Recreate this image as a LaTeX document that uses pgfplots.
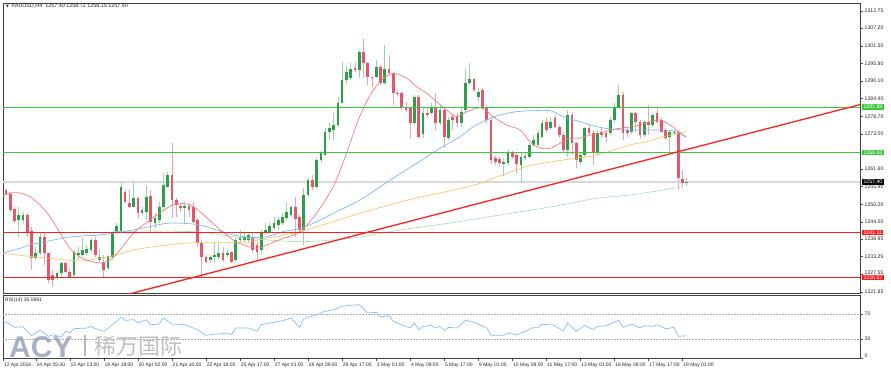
\documentclass[border=0pt]{standalone}
\usepackage{fontspec}
\setmainfont{Liberation Sans}
\newfontfamily\cjk{Noto Sans CJK SC}
\newfontfamily\dejavu{DejaVu Sans}
\usepackage{pgfplots}
\pgfplotsset{compat=1.18}
\usepackage{pgfplotstable}

\definecolor{bull}{HTML}{2E9E4A}
\definecolor{bear}{HTML}{E5566B}
\definecolor{bullw}{HTML}{9CD3A8}
\definecolor{bearw}{HTML}{F2A2AE}
\definecolor{maR}{HTML}{F47C7C}
\definecolor{maB}{HTML}{7DB7F0}
\definecolor{maO}{HTML}{FBC46A}
\definecolor{maG}{HTML}{A9D6B1}
\definecolor{hgreen}{HTML}{3CC83C}
\definecolor{hred}{HTML}{FF1E1E}
\definecolor{rsic}{HTML}{82BEF5}
\definecolor{wmblue}{HTML}{9EA9BC}
\definecolor{wmgray}{HTML}{B8B8B8}

\pgfplotstableread{
i o h l c
0 1258.3 1259.4 1254.8 1255.4
1 1254.8 1255.0 1253.2 1253.7
2 1253.7 1254.3 1247.8 1248.4
3 1248.6 1249.4 1244.0 1244.8
4 1245.1 1249.4 1239.7 1246.7
5 1245.1 1247.8 1244.1 1246.7
6 1246.7 1247.4 1239.7 1241.3
7 1241.6 1242.8 1228.9 1232.7
8 1232.7 1236.5 1232.2 1234.5
9 1234.3 1241.3 1233.8 1239.7
10 1239.7 1240.8 1230.5 1234.3
11 1234.3 1234.5 1224.6 1225.7
12 1227.3 1228.9 1223.5 1225.7
13 1226.2 1228.6 1225.7 1227.9
14 1227.9 1231.6 1226.8 1231.1
15 1231.1 1231.6 1227.9 1228.4
16 1228.4 1229.7 1226.5 1226.8
17 1227.3 1235.4 1226.8 1234.9
18 1233.8 1236.5 1232.2 1234.3
19 1233.8 1239.2 1233.2 1235.4
20 1234.3 1236.9 1233.8 1235.9
21 1235.4 1239.2 1234.9 1238.6
22 1238.6 1239.7 1233.2 1233.8
23 1232.2 1235.4 1231.1 1233.2
24 1231.6 1233.8 1226.8 1228.9
25 1229.5 1233.8 1228.9 1233.5
26 1233.2 1241.3 1232.2 1241.0
27 1241.3 1244.2 1240.8 1243.2
28 1241.3 1257.5 1240.8 1255.9
29 1254.3 1254.8 1250.6 1250.8
30 1250.5 1254.8 1248.9 1249.4
31 1249.4 1257.5 1249.2 1252.1
32 1252.1 1252.6 1245.7 1247.3
33 1247.3 1249.4 1246.7 1248.4
34 1247.8 1256.4 1245.1 1252.6
35 1252.9 1254.8 1241.3 1244.5
36 1244.2 1247.3 1242.4 1245.7
37 1245.1 1251.0 1244.0 1249.4
38 1249.4 1260.2 1248.4 1256.4
39 1255.9 1260.7 1255.4 1259.7
40 1259.7 1270.0 1245.7 1251.6
41 1251.6 1252.1 1246.2 1250.0
42 1249.7 1250.5 1247.8 1248.9
43 1248.9 1251.0 1244.0 1249.7
44 1249.7 1250.5 1246.2 1248.4
45 1249.4 1251.0 1244.0 1244.5
46 1245.1 1245.7 1236.5 1237.6
47 1237.6 1238.6 1226.8 1233.2
48 1233.2 1233.8 1231.1 1231.6
49 1232.2 1233.8 1231.1 1233.2
50 1233.2 1237.6 1231.1 1233.8
51 1233.2 1237.6 1232.2 1234.3
52 1234.3 1236.5 1231.6 1232.2
53 1233.8 1235.4 1233.2 1234.3
54 1234.9 1234.9 1231.1 1231.6
55 1232.2 1239.2 1231.6 1238.6
56 1238.6 1241.9 1238.1 1239.7
57 1238.6 1240.8 1238.1 1239.7
58 1238.6 1240.8 1237.6 1240.3
59 1239.7 1240.3 1234.3 1235.4
60 1237.0 1238.1 1232.2 1234.9
61 1235.4 1241.9 1233.8 1241.3
62 1240.8 1244.0 1240.3 1241.9
63 1241.3 1244.6 1240.8 1243.2
64 1242.4 1246.2 1241.9 1244.2
65 1243.5 1246.2 1241.9 1245.1
66 1244.0 1247.3 1243.5 1246.2
67 1245.7 1251.0 1245.1 1247.8
68 1246.7 1250.0 1246.2 1249.4
69 1249.4 1252.6 1239.7 1245.3
70 1246.0 1246.7 1241.3 1241.9
71 1241.9 1255.4 1237.0 1253.2
72 1253.2 1258.7 1252.6 1258.1
73 1258.1 1259.7 1254.8 1255.8
74 1255.8 1265.2 1255.5 1264.5
75 1264.5 1267.5 1263.5 1266.7
76 1266.1 1274.9 1265.8 1273.7
77 1273.7 1276.4 1271.0 1274.8
78 1274.2 1279.6 1271.0 1275.9
79 1275.9 1285.0 1275.3 1283.1
80 1283.1 1296.2 1282.9 1290.4
81 1290.4 1295.0 1289.0 1293.1
82 1291.0 1295.9 1290.4 1293.9
83 1294.3 1295.9 1293.0 1293.7
84 1293.7 1300.1 1291.1 1299.6
85 1299.6 1303.6 1291.1 1295.8
86 1295.8 1296.3 1288.8 1291.5
87 1291.5 1291.5 1288.3 1291.0
88 1291.5 1296.9 1291.0 1294.7
89 1294.7 1295.3 1288.8 1289.4
90 1289.4 1301.7 1288.8 1293.9
91 1293.9 1298.5 1292.0 1292.6
92 1292.6 1293.1 1282.3 1286.1
93 1286.3 1287.2 1285.0 1285.9
94 1286.3 1286.6 1280.7 1281.8
95 1281.8 1283.4 1280.2 1280.7
96 1281.3 1281.8 1271.5 1276.4
97 1276.4 1285.6 1275.9 1285.0
98 1285.0 1285.6 1271.5 1272.1
99 1273.0 1281.8 1271.5 1279.6
100 1279.6 1281.8 1278.5 1279.1
101 1279.6 1283.0 1279.0 1281.8
102 1281.8 1286.1 1274.2 1276.4
103 1276.4 1282.3 1275.9 1280.7
104 1280.7 1281.3 1268.3 1272.1
105 1271.5 1278.5 1271.0 1277.4
106 1278.5 1279.1 1274.2 1277.5
107 1278.5 1279.6 1275.3 1276.4
108 1276.4 1281.3 1275.3 1280.2
109 1280.7 1294.2 1280.2 1289.4
110 1289.4 1295.8 1288.8 1290.7
111 1290.7 1291.0 1286.6 1287.2
112 1285.0 1287.7 1283.4 1286.6
113 1287.2 1287.7 1280.7 1281.8
114 1281.8 1282.3 1276.4 1277.5
115 1277.5 1278.0 1263.4 1264.5
116 1265.1 1265.8 1262.9 1264.0
117 1264.8 1265.6 1262.4 1263.7
118 1263.4 1265.1 1259.3 1264.0
119 1263.5 1267.7 1263.0 1267.2
120 1266.7 1267.5 1264.8 1265.6
121 1266.1 1266.7 1260.2 1263.2
122 1262.9 1266.7 1257.0 1265.6
123 1265.4 1266.7 1264.5 1265.8
124 1265.6 1270.0 1265.1 1269.4
125 1269.4 1272.6 1268.9 1271.0
126 1269.4 1274.2 1268.9 1273.2
127 1272.1 1277.5 1271.5 1276.4
128 1276.9 1278.0 1273.7 1274.2
129 1274.8 1278.5 1274.2 1276.9
130 1278.0 1279.1 1274.8 1275.3
131 1275.3 1276.0 1271.5 1272.6
132 1272.6 1273.2 1267.2 1267.8
133 1267.8 1280.7 1265.6 1279.1
134 1279.1 1280.2 1266.1 1270.0
135 1270.0 1270.5 1261.8 1264.5
136 1263.9 1267.2 1262.9 1266.1
137 1266.1 1275.3 1265.6 1274.9
138 1274.9 1275.9 1272.6 1273.2
139 1273.2 1274.2 1262.9 1266.7
140 1266.7 1274.2 1266.1 1273.2
141 1273.7 1274.8 1271.5 1272.6
142 1273.2 1273.7 1270.5 1272.1
143 1273.2 1278.5 1272.6 1277.5
144 1277.5 1282.9 1276.9 1281.3
145 1281.3 1288.8 1281.3 1285.6
146 1285.6 1286.6 1271.0 1273.2
147 1274.2 1275.3 1272.1 1273.2
148 1273.5 1280.2 1273.0 1279.8
149 1279.8 1280.2 1273.7 1276.9
150 1276.9 1277.5 1271.5 1272.6
151 1272.6 1277.5 1272.1 1276.9
152 1276.9 1282.3 1272.6 1275.9
153 1275.9 1279.6 1275.3 1279.1
154 1279.6 1281.8 1276.4 1276.9
155 1277.5 1278.0 1273.2 1273.6
156 1274.2 1274.8 1271.0 1271.7
157 1272.1 1274.2 1267.2 1273.7
158 1273.2 1274.2 1272.6 1273.7
159 1273.5 1274.2 1254.8 1258.7
160 1258.4 1261.3 1255.9 1257.1
161 1257.4 1258.72 1256.15 1257.4
}\candles

\pgfplotsset{
  candle/.style n args={2}{draw=none, mark=none, forget plot,
    error bars/.cd, y dir=both, y explicit, error mark=none,
    error bar style={line width=#2, draw=#1, line cap=butt}, /pgfplots/.cd},
}

\begin{document}
\begin{tikzpicture}
\begin{axis}[
  at={(3pt,76.5pt)}, anchor=south west, scale only axis,
  width=857pt, height=290.5pt,
  xmin=0.3, xmax=201.7, ymin=1221.33, ymax=1315.34,
  axis line style={draw=black!75, line width=0.6pt},
  xtick=\empty,
  ytick={1312.75,1307.20,1301.50,1295.80,1290.10,1284.40,1278.70,1273.00,1261.60,1255.90,1250.20,1244.50,1238.95,1233.25,1227.55,1221.85},
  yticklabels={1312.75,1307.20,1301.50,1295.80,1290.10,1284.40,1278.70,1273.00,1261.60,1255.90,1250.20,1244.50,1238.95,1233.25,\raisebox{2.6pt}{1227.55},1221.85},
  ytick pos=right, yticklabel pos=right, tick align=outside,
  major tick length=2.5pt, tick style={black!70, line width=0.4pt},
  yticklabel style={font=\fontsize{5.2}{6}\selectfont, inner sep=0pt, xshift=2pt, text=black!85},
  clip=true,
]
% current price line
\addplot[black!15, line width=1.4pt] coordinates {(0,1257.40) (202,1257.40)};
% wicks
\addplot[restrict expr to domain={\thisrow{c}-\thisrow{o}}{0:1000}, candle={bullw}{0.7pt}]
  table[x=i, y expr={(\thisrow{h}+\thisrow{l})/2}, y error expr={(\thisrow{h}-\thisrow{l})/2}] {\candles};
\addplot[restrict expr to domain={\thisrow{o}-\thisrow{c}}{0.001:1000}, candle={bearw}{0.7pt}]
  table[x=i, y expr={(\thisrow{h}+\thisrow{l})/2}, y error expr={(\thisrow{h}-\thisrow{l})/2}] {\candles};
% bodies
\addplot[restrict expr to domain={\thisrow{c}-\thisrow{o}}{0:1000}, candle={bull}{2.7pt}]
  table[x=i, y expr={(\thisrow{o}+\thisrow{c})/2}, y error expr={max(abs(\thisrow{o}-\thisrow{c})/2,0.17)}] {\candles};
\addplot[restrict expr to domain={\thisrow{o}-\thisrow{c}}{0.001:1000}, candle={bear}{2.7pt}]
  table[x=i, y expr={(\thisrow{o}+\thisrow{c})/2}, y error expr={max(abs(\thisrow{o}-\thisrow{c})/2,0.17)}] {\candles};
% moving averages
\addplot[maG, line width=0.6pt, smooth] coordinates {(26.2,1241.33)(34.85,1241.56)(46.6,1241.23)(54.4,1239.7)(62.4,1238.65)(70.1,1238.1)(77.9,1238.65)(84.2,1239.6)(93.6,1241.88)(105.4,1244.15)(117.1,1246.74)(128.9,1249.33)(139.8,1252.14)(147.7,1253.21)(155.5,1254.83)(160.2,1255.9)};
\addplot[maO, line width=0.7pt, smooth] coordinates {(0,1234.34)(7.4,1233.24)(15.3,1232.17)(19.2,1231.9)(23.1,1232.72)(27.0,1233.8)(30.9,1235.41)(34.85,1236.3)(38.8,1237.03)(42.6,1237.58)(46.6,1237.77)(54.4,1237.77)(58.4,1238.1)(62.3,1239.2)(66.1,1240.26)(70.1,1241.33)(74.0,1242.95)(77.9,1244.57)(84.2,1247.3)(93.6,1250.94)(100.7,1253.21)(108.4,1255.47)(112.4,1257.0)(116.3,1259.0)(121.0,1261.3)(124.2,1262.75)(132.0,1264.53)(139.8,1266.15)(147.7,1269.39)(151.6,1270.45)(155.5,1272.07)(158.6,1273.17)(161.0,1273.69)};
\addplot[maB, line width=0.7pt, smooth] coordinates {(0,1234.34)(4.3,1235.96)(7.4,1237.3)(11.35,1238.4)(15.3,1239.5)(19.2,1240.0)(23.1,1240.26)(30.9,1241.88)(34.85,1243.0)(38.8,1244.05)(42.6,1244.05)(46.6,1243.5)(50.5,1241.88)(54.4,1240.26)(58.4,1239.52)(62.3,1239.7)(66.1,1241.33)(70.1,1242.4)(74.0,1244.57)(77.9,1247.3)(84.2,1251.6)(91.3,1258.06)(97.5,1263.47)(103.0,1268.32)(107.7,1272.07)(110.8,1275.31)(114.0,1277.48)(117.1,1279.1)(121.0,1280.17)(124.9,1280.49)(128.9,1280.49)(132.0,1278.55)(135.9,1276.93)(139.8,1275.31)(143.7,1274.47)(147.7,1274.24)(155.5,1274.24)(158.6,1273.69)(161.0,1271.88)};
\addplot[maR, line width=0.7pt, smooth] coordinates {(0,1252.66)(1.95,1253.85)(4.3,1253.85)(6.65,1252.66)(9.0,1249.97)(11.35,1246.18)(13.7,1240.91)(16.05,1235.9)(18.4,1233.1)(20.75,1231.85)(23.1,1231.2)(25.45,1232.17)(27.8,1235.41)(30.9,1240.81)(34.85,1245.1)(38.8,1248.9)(41.1,1250.52)(44.3,1249.97)(46.6,1247.8)(50.5,1242.95)(54.4,1238.65)(56.8,1237.03)(59.9,1235.96)(62.3,1237.03)(66.2,1239.2)(70.1,1241.33)(74.0,1247.3)(78.1,1256.5)(81.1,1267.0)(83.8,1277.5)(86.6,1285.57)(89.3,1290.42)(92.0,1292.6)(95.2,1290.97)(97.5,1288.25)(99.9,1286.1)(102.2,1283.4)(104.6,1280.7)(106.9,1278.55)(109.3,1280.17)(111.6,1281.27)(113.2,1281.27)(115.5,1278.55)(118.7,1275.86)(121.8,1274.24)(124.2,1270.36)(126.5,1268.4)(128.9,1268.32)(131.2,1269.94)(133.6,1271.56)(135.9,1271.56)(138.3,1272.62)(140.6,1273.17)(143.0,1274.24)(145.3,1274.79)(147.7,1275.31)(150.0,1275.86)(152.4,1276.93)(154.7,1277.48)(157.1,1275.86)(159.0,1273.69)(160.6,1272.07)};
% horizontal levels
\addplot[hgreen, line width=0.9pt] coordinates {(0,1281.69) (202,1281.69)};
\addplot[hgreen, line width=0.9pt] coordinates {(0,1266.93) (202,1266.93)};
\addplot[hred, line width=1.2pt] coordinates {(0,1241.11) (202,1241.11)};
\addplot[hred, line width=1.2pt] coordinates {(0,1226.57) (202,1226.57)};
% trend line
\addplot[hred, line width=1.3pt] coordinates {(20,1217.62) (205,1283.63)};
\coordinate (G1) at (axis cs:201.7,1281.69);
\coordinate (G2) at (axis cs:201.7,1266.93);
\coordinate (K1) at (axis cs:201.7,1257.40);
\coordinate (R1) at (axis cs:201.7,1241.11);
\coordinate (R2) at (axis cs:201.7,1226.57);
\end{axis}

\begin{axis}[
  at={(3pt,11.5pt)}, anchor=south west, scale only axis,
  width=857pt, height=63pt,
  xmin=0.3, xmax=201.7, ymin=-1.2, ymax=99.6,
  axis line style={draw=black!75, line width=0.6pt},
  xtick={0.35,8,16,24,32,40,48,56,64,72,80,88,96,104,112,120,128,136,144,152,160},
  xticklabels={12 Apr 2016,14 Apr 05:00,15 Apr 13:00,18 Apr 18:00,20 Apr 02:00,21 Apr 10:00,22 Apr 18:00,25 Apr 17:00,27 Apr 01:00,28 Apr 09:00,29 Apr 17:00,3 May 01:00,4 May 09:00,5 May 17:00,9 May 01:00,10 May 09:00,11 May 17:00,13 May 01:00,16 May 09:00,17 May 17:00,19 May 01:00},
  xtick pos=bottom, xticklabel pos=bottom,
  ytick={100,70,30,0},
  yticklabels={\raisebox{-3pt}{100},70,30,\raisebox{3.5pt}{0}},
  ytick pos=right, yticklabel pos=right, tick align=outside,
  major tick length=2.5pt, tick style={black!70, line width=0.4pt},
  yticklabel style={font=\fontsize{5.2}{6}\selectfont, inner sep=0pt, xshift=2pt, text=black!85},
  xticklabel style={font=\fontsize{5}{6}\selectfont, anchor=north west, inner sep=0pt, xshift=0.6pt, yshift=-1.6pt, text=black!85},
  clip=true,
]
\addplot[black!30, densely dotted, line width=0.5pt] coordinates {(0,70) (202,70)};
\addplot[black!30, densely dotted, line width=0.5pt] coordinates {(0,30) (202,30)};
\addplot[rsic, line width=0.7pt] coordinates {(0,60.9)(3,48.7)(5,49.6)(7,35.3)(9,43.9)(11,34.3)(12,36.7)(14,33.2)(15,42.3)(16,39.9)(17,46.5)(20,47.5)(21,50.3)(22,46.5)(24,42.3)(26,52.9)(28,64.7)(29,59.9)(31,60.9)(32,55.6)(34,60.9)(35,52.9)(37,53.9)(38,63.6)(40,53.9)(43,52.9)(46,44.9)(48,35.9)(50,37.9)(51,37.9)(53,39.5)(54,37.0)(55,47.6)(58,47.6)(60,42.3)(61,52.9)(63,55.6)(66,59.3)(68,63.6)(70,48.7)(71,62.6)(72,64.7)(74,68.9)(76,74.2)(78,76.9)(80,82.2)(82,83.9)(84,84.9)(86,71.6)(88,72.6)(89,65.2)(91,67.3)(92,58.3)(94,52.9)(96,47.6)(97,55.6)(98,44.9)(99,50.1)(101,51.7)(102,47.6)(103,50.1)(104,43.8)(105,48.6)(107,47.6)(109,59.9)(111,56.7)(114,47.6)(115,35.9)(118,35.9)(119,39.5)(121,36.9)(123,42.3)(125,48.6)(126,48.6)(127,53.9)(128,52.9)(129,54.4)(132,43.3)(133,55.6)(135,42.3)(137,51.7)(139,44.9)(140,50.1)(142,51.2)(145,59.9)(146,48.6)(148,53.9)(150,47.6)(151,51.2)(153,50.1)(154,52.9)(156,46.5)(158,48.6)(159,34.3)(161,35.07)};
\end{axis}

% level labels on the price scale
\node[fill=hgreen, text=white, font=\fontsize{5.2}{6}\selectfont, inner xsep=1.3pt, inner ysep=0.9pt, anchor=west] at ([xshift=2pt]G1) {1281.69};
\node[fill=hgreen, text=white, font=\fontsize{5.2}{6}\selectfont, inner xsep=1.3pt, inner ysep=0.9pt, anchor=west] at ([xshift=2pt]G2) {1266.93};
\node[fill=black, text=white, font=\fontsize{5.2}{6}\selectfont, inner xsep=1.3pt, inner ysep=0.9pt, anchor=west] at ([xshift=2pt]K1) {1257.40};
\node[fill=hred, text=white, font=\fontsize{5.2}{6}\selectfont, inner xsep=1.3pt, inner ysep=0.9pt, anchor=west] at ([xshift=2pt]R1) {1241.11};
\node[fill=hred, text=white, font=\fontsize{5.2}{6}\selectfont, inner xsep=1.3pt, inner ysep=0.9pt, anchor=west] at ([xshift=2pt]R2) {1226.57};

% titles
\node[anchor=west, inner sep=0pt, font=\fontsize{5.4}{6}\selectfont, text=black!85] at (6pt,364pt) {{\dejavu\fontsize{3.6}{4}\selectfont ▼}\, XAUUSD,H4\ \ 1257.40 1258.72 1256.15 1257.40};
\node[anchor=west, inner sep=0pt, font=\fontsize{5}{6}\selectfont, text=black!85] at (5pt,70pt) {RSI(14) 35.0691};

% watermark
\node[anchor=base west, inner sep=0pt, font=\fontsize{30}{30}\selectfont\bfseries, text=wmblue, opacity=0.9] at (9pt,13pt) {ACY};
\draw[wmgray, line width=1.1pt] (85pt,14pt) -- (85pt,35pt);
\node[anchor=base west, inner sep=0pt, font=\cjk\fontsize{22}{22}\selectfont, text=wmgray, opacity=0.9] at (94pt,16pt) {稀万国际};

\pgfresetboundingbox
\path (0pt,0pt) rectangle (891pt,370pt);
\end{tikzpicture}
\end{document}
